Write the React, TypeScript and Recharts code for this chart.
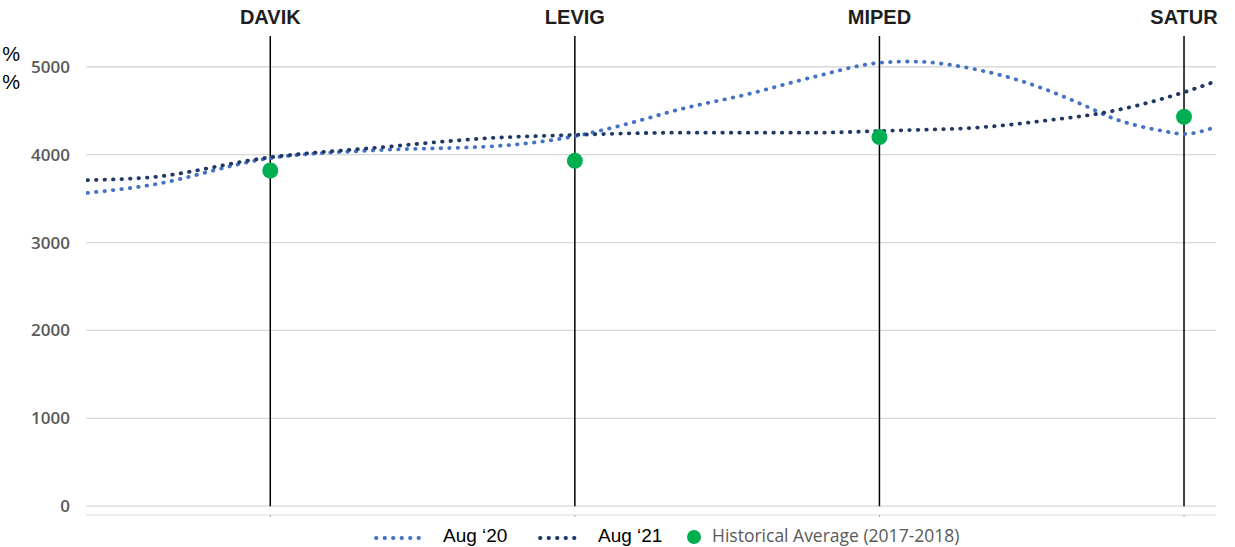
import React from 'react';
import {
  ComposedChart,
  Line,
  Scatter,
  XAxis,
  YAxis,
  ReferenceLine,
} from 'recharts';

// Station names, placed at positions 1..4 on the horizontal scale
const categories = ['DAVIK', 'LEVIG', 'MIPED', 'SATUR'];
const categoryPos = [1, 2, 3, 4];

// Historical average (2017-2018) per station
const historicalAvg = [3820, 3930, 4200, 4430];

// Aug '20 smoothed curve: positions along the axis and values
const aug20Pos = [0.4, 0.6, 1.0, 1.35, 1.75, 2.0, 2.15, 2.35, 2.57, 2.78, 3.0, 3.1, 3.33, 3.49, 3.66, 3.77, 3.93, 4.0, 4.1];
const aug20Val = [3565, 3650, 3960, 4050, 4100, 4210, 4330, 4520, 4690, 4880, 5045, 5060, 4960, 4810, 4580, 4410, 4270, 4235, 4310];

// Aug '21 smoothed curve
const aug21Pos = [0.4, 0.6, 1.0, 1.35, 1.73, 2.0, 2.35, 2.78, 3.05, 3.33, 3.55, 3.74, 4.0, 4.1];
const aug21Val = [3710, 3740, 3970, 4080, 4190, 4225, 4250, 4250, 4275, 4310, 4390, 4480, 4710, 4830];

const yTicks = [0, 1000, 2000, 3000, 4000, 5000];
const legendLabels = ['Aug \u201820', 'Aug \u201821', 'Historical Average (2017-2018)'];

const LIGHT = '#4472C4';
const DARK = '#1F3864';
const GREEN = '#00B050';

const aug20Data = aug20Pos.map((u, i) => ({ u, v: aug20Val[i] }));
const aug21Data = aug21Pos.map((u, i) => ({ u, v: aug21Val[i] }));
const histData = categoryPos.map((u, i) => ({ u, v: historicalAvg[i] }));

const X_DOMAIN: [number, number] = [0.395, 4.105];
const Y_DOMAIN: [number, number] = [-100, 5350];

const Dot = (props: any) => <circle cx={props.cx} cy={props.cy} r={8} fill={GREEN} />;
const NoTick = () => <g />;

function DottedSample({ color, width }: { color: string; width: number }) {
  return (
    <svg width={width} height={8} style={{ position: 'absolute', top: 0, left: 0 }}>
      <line x1={2} y1={4} x2={width} y2={4} stroke={color} strokeWidth={3.8} strokeDasharray="0.5 8" strokeLinecap="round" />
    </svg>
  );
}

export default function App() {
  return (
    <div style={{ position: 'absolute', left: 0, top: 0, width: 1235, height: 547, overflow: 'hidden', background: '#fff' }}>
      <ComposedChart width={1235} height={547} margin={{ top: 0, right: 19, bottom: 22, left: 0 }}>
        <XAxis
          xAxisId="cat"
          orientation="top"
          type="number"
          dataKey="u"
          domain={X_DOMAIN}
          ticks={categoryPos}
          height={36}
          axisLine={false}
          tickLine={false}
          tickSize={0}
          tickMargin={12}
          tickFormatter={(v: number) => categories[v - 1] ?? ''}
          tick={{ fill: '#1e1e1e', fontSize: 20, fontWeight: 700, fontFamily: 'Liberation Sans' }}
          allowDataOverflow
        />
        <XAxis
          type="number"
          dataKey="u"
          domain={X_DOMAIN}
          ticks={categoryPos}
          height={10}
          axisLine={{ stroke: '#d9d9d9' }}
          tickLine={{ stroke: '#a6a6a6' }}
          tickSize={2}
          tick={NoTick}
          allowDataOverflow
        />
        <YAxis
          type="number"
          domain={Y_DOMAIN}
          ticks={yTicks}
          width={86}
          axisLine={false}
          tickLine={false}
          tickSize={0}
          tickMargin={16}
          tick={{ fill: '#595959', fontSize: 17, fontWeight: 600, fontFamily: 'Open Sans' }}
          allowDataOverflow
        />
        {/* horizontal gridlines at the value ticks */}
        {yTicks.map((t) => (
          <ReferenceLine key={`g${t}`} y={t} stroke="#d9d9d9" strokeWidth={1.3} />
        ))}
        {categoryPos.map((u) => (
          <ReferenceLine
            key={u}
            segment={[{ x: u, y: 0 }, { x: u, y: Y_DOMAIN[1] }]}
            stroke="#000"
            strokeWidth={1.5}
          />
        ))}
        <Line
          data={aug20Data}
          dataKey="v"
          type="monotone"
          stroke={LIGHT}
          strokeWidth={3.8}
          strokeDasharray="0.5 8"
          strokeLinecap="round"
          dot={false}
          activeDot={false}
          isAnimationActive={false}
        />
        <Line
          data={aug21Data}
          dataKey="v"
          type="monotone"
          stroke={DARK}
          strokeWidth={3.8}
          strokeDasharray="0.5 8"
          strokeLinecap="round"
          dot={false}
          activeDot={false}
          isAnimationActive={false}
        />
        <Scatter xAxisId="cat" data={histData} dataKey="v" shape={Dot} isAnimationActive={false} />
      </ComposedChart>

      {/* percent labels on the far left */}
      <div style={{ position: 'absolute', left: 0, top: 41, width: 20, textAlign: 'right', fontFamily: 'Liberation Sans', fontSize: 20, color: '#000', lineHeight: '26px' }}>%</div>
      <div style={{ position: 'absolute', left: 0, top: 69, width: 20, textAlign: 'right', fontFamily: 'Liberation Sans', fontSize: 20, color: '#000', lineHeight: '26px' }}>%</div>

      {/* legend */}
      <div style={{ position: 'absolute', left: 374, top: 534, width: 52, height: 8 }}>
        <DottedSample color={LIGHT} width={52} />
      </div>
      <div style={{ position: 'absolute', left: 443, top: 524, fontFamily: 'Liberation Sans', fontSize: 19, color: '#000', whiteSpace: 'nowrap', lineHeight: '24px' }}>
        {legendLabels[0]}
      </div>
      <div style={{ position: 'absolute', left: 538, top: 534, width: 44, height: 8 }}>
        <DottedSample color={DARK} width={44} />
      </div>
      <div style={{ position: 'absolute', left: 598, top: 524, fontFamily: 'Liberation Sans', fontSize: 19, color: '#000', whiteSpace: 'nowrap', lineHeight: '24px' }}>
        {legendLabels[1]}
      </div>
      <div style={{ position: 'absolute', left: 687, top: 530, width: 14, height: 14, borderRadius: 7, background: GREEN }} />
      <div style={{ position: 'absolute', left: 712, top: 524, fontFamily: 'Open Sans', fontSize: 17.5, color: '#595959', whiteSpace: 'nowrap', lineHeight: '22px' }}>
        {legendLabels[2]}
      </div>
    </div>
  );
}
